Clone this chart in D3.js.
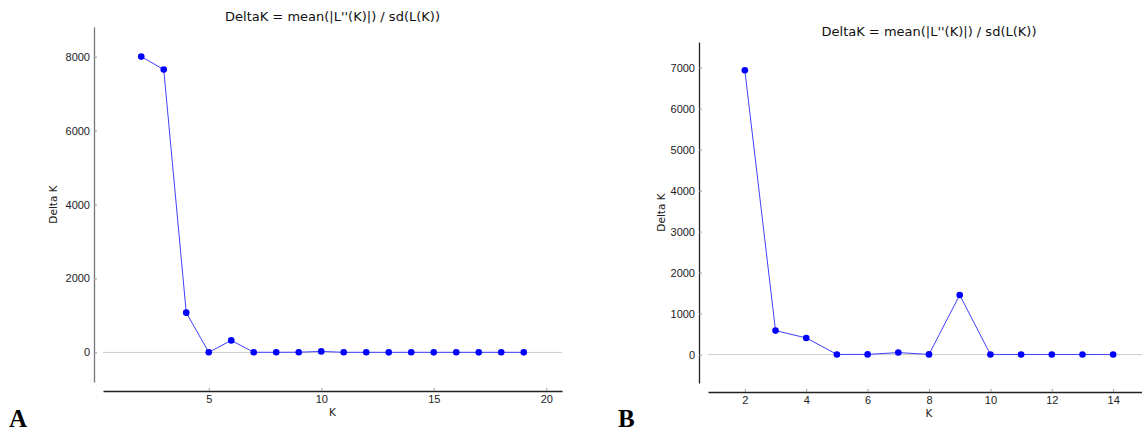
<!DOCTYPE html>
<html>
<head>
<meta charset="utf-8">
<style>
  body { margin: 0; background: #fff; }
  svg { display: block; font-family: "DejaVu Sans", sans-serif; }
  .tick text { fill: #222; font-size: 11px; }
</style>
</head>
<body>
<script src="https://cdn.jsdelivr.net/npm/d3@7/dist/d3.min.js"></script>
<script>
// panel A data
var kA = [2, 3, 4, 5, 6, 7, 8, 9, 10, 11, 12, 13, 14, 15, 16, 17, 18, 19];
var deltaA = [8000, 7650, 1075, 3, 325, 4, 3, 5, 27, 3, 3, 2, 3, 2, 3, 2, 3, 2];
var xTicksA = [5, 10, 15, 20];
var yTicksA = [0, 2000, 4000, 6000, 8000];

// panel B data
var kB = [2, 3, 4, 5, 6, 7, 8, 9, 10, 11, 12, 13, 14];
var deltaB = [6935, 585, 406, 3, 4, 49, 4, 1454, 3, 3, 2, 3, 2];
var xTicksB = [2, 4, 6, 8, 10, 12, 14];
var yTicksB = [0, 1000, 2000, 3000, 4000, 5000, 6000, 7000];

var title = "DeltaK = mean(|L''(K)|) / sd(L(K))";

var svg = d3.select('body').append('svg')
  .attr('width', 1142)
  .attr('height', 436);

function panel(opt) {
  var pad = 9; // spines sit a bit off the plot area
  var x = d3.scaleLinear().domain(opt.xDomain).range([opt.left, opt.right]);
  var y = d3.scaleLinear().domain(opt.yDomain).range([opt.bottom, opt.top]);
  var g = svg.append('g');

  // zero line
  g.append('line')
    .attr('x1', opt.left).attr('x2', opt.right)
    .attr('y1', y(0)).attr('y2', y(0))
    .attr('stroke', '#cccccc').attr('stroke-width', 1);

  var yAxis = g.append('g')
    .attr('transform', 'translate(' + (opt.left - pad) + ',0)')
    .call(d3.axisLeft(y).tickValues(opt.yTicks).tickFormat(d3.format('d'))
      .tickSize(-3).tickSizeOuter(0).tickPadding(4));
  yAxis.select('.domain').attr('stroke', opt.ySpine).attr('stroke-width', 1.3);
  yAxis.selectAll('.tick line').attr('stroke', '#999');

  var xAxis = g.append('g')
    .attr('transform', 'translate(0,' + (opt.bottom + pad) + ')')
    .call(d3.axisBottom(x).tickValues(opt.xTicks).tickFormat(d3.format('d'))
      .tickSize(-3).tickSizeOuter(0).tickPadding(4));
  xAxis.select('.domain').attr('stroke', '#222').attr('stroke-width', 1.3);
  xAxis.selectAll('.tick line').attr('stroke', '#999');

  var pts = opt.k.map(function(k, i) { return [k, opt.v[i]]; });

  g.append('path')
    .datum(pts)
    .attr('fill', 'none')
    .attr('stroke', '#4040ff')
    .attr('stroke-width', 1)
    .attr('d', d3.line().x(d => x(d[0])).y(d => y(d[1])));

  g.selectAll('circle')
    .data(pts)
    .enter().append('circle')
    .attr('cx', d => x(d[0]))
    .attr('cy', d => y(d[1]))
    .attr('r', 3.3)
    .attr('fill', '#0000ff');

  g.append('text')
    .attr('x', (opt.left + opt.right) / 2)
    .attr('y', opt.titleY)
    .attr('text-anchor', 'middle')
    .attr('font-size', '13px')
    .attr('fill', '#111')
    .text(title);

  g.append('text')
    .attr('x', (opt.left + opt.right) / 2)
    .attr('y', opt.bottom + 34)
    .attr('text-anchor', 'middle')
    .attr('font-size', '10.5px')
    .attr('fill', '#222')
    .text('K');

  g.append('text')
    .attr('transform', 'translate(' + opt.ylabX + ',' + ((opt.top + opt.bottom) / 2) + ') rotate(-90)')
    .attr('text-anchor', 'middle')
    .attr('font-size', '10.5px')
    .attr('fill', '#222')
    .text('Delta K');

  svg.append('text')
    .attr('x', opt.letterX)
    .attr('y', 427)
    .attr('font-family', '"Liberation Serif", "Times New Roman", serif')
    .attr('font-weight', 'bold')
    .attr('font-size', '25px')
    .attr('fill', '#000')
    .text(opt.letter);
}

panel({
  k: kA, v: deltaA, xTicks: xTicksA, yTicks: yTicksA,
  xDomain: [0.3, 20.7], yDomain: [-800, 8800],
  left: 103, right: 562, top: 27, bottom: 382,
  titleY: 21, ylabX: 57, ySpine: '#777', letter: 'A', letterX: 9
});

panel({
  k: kB, v: deltaB, xTicks: xTicksB, yTicks: yTicksB,
  xDomain: [0.8, 15.2], yDomain: [-693, 7623],
  left: 708, right: 1150, top: 42, bottom: 383,
  titleY: 35.5, ylabX: 664.5, ySpine: '#222', letter: 'B', letterX: 618
});
</script>
</body>
</html>
